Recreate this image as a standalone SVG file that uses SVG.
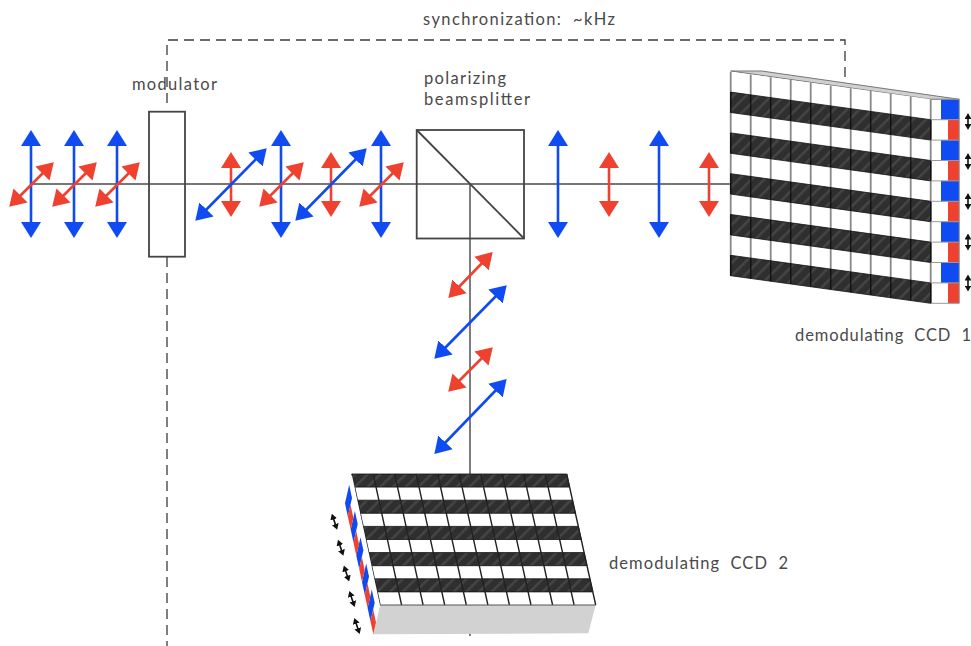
<svg xmlns="http://www.w3.org/2000/svg" width="971" height="646" viewBox="0 0 971 646">
<style>
text{font-family:"Lato","Liberation Sans",sans-serif;font-size:16.5px;fill:#4a4a4a;word-spacing:5px}
.beam{stroke:#777;stroke-width:1.9;fill:none}
.box{stroke:#444;stroke-width:1.8;fill:none}
.dash{stroke:#3a3a3a;stroke-width:1.3;fill:none;stroke-dasharray:10 6}
.b{stroke:#0f4bf0;stroke-width:2.6;marker-start:url(#hb);marker-end:url(#hb)}
.r{stroke:#ef4130;stroke-width:2.6;marker-start:url(#hr);marker-end:url(#hr)}
.k{stroke:#111;stroke-width:1.6;marker-start:url(#hk);marker-end:url(#hk)}
.dark{fill:url(#hatch);stroke:#111;stroke-width:.8}
.grid{stroke:#888;stroke-width:1.8}
.g1{stroke:#111;stroke-width:1.4;stroke-dasharray:0 20.4 20.4 0}
.g2{stroke:#222;stroke-width:1.4}
.blue{fill:#0f4bf0}
.red{fill:#ef4130}
</style>
<defs>
<marker id="hb" viewBox="0 0 16 20" markerUnits="userSpaceOnUse" markerWidth="16" markerHeight="20" refX="5" refY="10" orient="auto-start-reverse"><path d="M0 0L16 10L0 20Z" fill="#0f4bf0"/></marker>
<marker id="hr" viewBox="0 0 16 20" markerUnits="userSpaceOnUse" markerWidth="16" markerHeight="20" refX="5" refY="10" orient="auto-start-reverse"><path d="M0 0L16 10L0 20Z" fill="#ef4130"/></marker>
<marker id="hk" viewBox="0 0 6 7" markerUnits="userSpaceOnUse" markerWidth="6" markerHeight="7" refX="1" refY="3.5" orient="auto-start-reverse"><path d="M0 0L6 3.5L0 7Z" fill="#111"/></marker>
<pattern id="hatch" width="9" height="9" patternUnits="userSpaceOnUse" patternTransform="rotate(-45)"><rect width="9" height="9" fill="#2f2f2f"/><rect width="9" height="2.5" fill="#454545"/></pattern>
</defs>
<g id="connectors">
<path class="beam" d="M31 184H775M470 184V520M470 614V617M470 628V636"/>
<path class="dash" d="M167 103V40H845V81M167 257V646"/>
</g>
<g id="modulator">
<rect class="box" x="149" y="111.7" width="36" height="145"/>
<text x="132" y="90" textLength="85">modulator</text>
</g>
<g id="beamsplitter">
<rect class="box" x="416.7" y="130" width="107.3" height="108.5"/>
<path class="box" d="M416.7 130L524 238.5"/>
<text x="424" y="84" textLength="82">polarizing</text>
<text x="424" y="105" textLength="106">beamsplitter</text>
</g>
<g id="sync"><text x="423" y="25" textLength="192">synchronization: ~kHz</text></g>
<g id="pol-input">
<line class="b" x1="31" y1="141" x2="31" y2="227"/><line class="r" x1="17" y1="199" x2="46" y2="170"/>
<line class="b" x1="74" y1="141" x2="74" y2="227"/><line class="r" x1="60" y1="199" x2="89" y2="170"/>
<line class="b" x1="117" y1="141" x2="117" y2="227"/><line class="r" x1="103" y1="199" x2="132" y2="170"/>
</g>
<g id="pol-middle">
<line class="r" x1="231" y1="163" x2="231" y2="206"/><line class="b" x1="203" y1="213" x2="259" y2="156"/>
<line class="b" x1="281" y1="141" x2="281" y2="227"/><line class="r" x1="267" y1="199" x2="296" y2="170"/>
<line class="r" x1="331" y1="163" x2="331" y2="206"/><line class="b" x1="303" y1="213" x2="359" y2="156"/>
<line class="b" x1="381" y1="141" x2="381" y2="227"/><line class="r" x1="367" y1="199" x2="396" y2="170"/>
</g>
<g id="pol-right">
<line class="b" x1="558" y1="141" x2="558" y2="227"/>
<line class="r" x1="609" y1="163" x2="609" y2="206"/>
<line class="b" x1="659" y1="141" x2="659" y2="227"/>
<line class="r" x1="709" y1="163" x2="709" y2="206"/>
</g>
<g id="pol-down">
<line class="r" x1="456" y1="290" x2="485" y2="260"/>
<line class="b" x1="442" y1="351" x2="499" y2="293"/>
<line class="r" x1="456" y1="384" x2="485" y2="355"/>
<line class="b" x1="442" y1="446" x2="499" y2="387"/>
</g>
<g id="ccd1">
<path d="M730.7 71L761.7 71L959.3 99.3H930.7Z" fill="#d0d0d0" stroke="#777" stroke-width="1"/>
<path d="M730.7 71.7L930.7 99.3V303.3L730.7 275.7Z" fill="#fff"/>
<path class="grid" d="M750.7 74.5V278.5M770.7 77.2V281.2M790.7 80V284M810.7 82.7V286.7M830.7 85.5V289.5M850.7 88.3V292.3M870.7 91V295M890.7 93.8V297.8M910.7 96.5V300.5M730.7 71.7V275.7M930.7 99.3V303.3"/>
<polygon class="dark" points="730.7,92.1 930.7,119.7 930.7,140.1 730.7,112.5"/>
<polygon class="dark" points="730.7,132.9 930.7,160.5 930.7,180.9 730.7,153.3"/>
<polygon class="dark" points="730.7,173.7 930.7,201.3 930.7,221.7 730.7,194.1"/>
<polygon class="dark" points="730.7,214.5 930.7,242.1 930.7,262.5 730.7,234.9"/>
<polygon class="dark" points="730.7,255.3 930.7,282.9 930.7,303.3 730.7,275.7"/>
<path class="g1" d="M750.7 74.5V278.5M770.7 77.2V281.2M790.7 80V284M810.7 82.7V286.7M830.7 85.5V289.5M850.7 88.3V292.3M870.7 91V295M890.7 93.8V297.8M910.7 96.5V300.5M730.7 71.7V275.7M930.7 99.3V303.3"/>
<rect class="blue" x="941" y="99.3" width="18.3" height="20.4"/><rect class="red" x="948" y="119.7" width="11.3" height="20.4"/>
<rect class="blue" x="941" y="140.1" width="18.3" height="20.4"/><rect class="red" x="948" y="160.5" width="11.3" height="20.4"/>
<rect class="blue" x="941" y="180.9" width="18.3" height="20.4"/><rect class="red" x="948" y="201.3" width="11.3" height="20.4"/>
<rect class="blue" x="941" y="221.7" width="18.3" height="20.4"/><rect class="red" x="948" y="242.1" width="11.3" height="20.4"/>
<rect class="blue" x="941" y="262.5" width="18.3" height="20.4"/><rect class="red" x="948" y="282.9" width="11.3" height="20.4"/>
<path d="M930.7 99.3H959.3V303.3H930.7M930.7 119.7H959.3M930.7 140.1H959.3M930.7 160.5H959.3M930.7 180.9H959.3M930.7 201.3H959.3M930.7 221.7H959.3M930.7 242.1H959.3M930.7 262.5H959.3M930.7 282.9H959.3" fill="none" stroke="#999" stroke-width="1"/>
<line class="k" x1="968" y1="118" x2="968" y2="125"/>
<line class="k" x1="968" y1="158" x2="968" y2="165"/>
<line class="k" x1="968" y1="198" x2="968" y2="205"/>
<line class="k" x1="968" y1="238.5" x2="968" y2="245.5"/>
<line class="k" x1="968" y1="279.5" x2="968" y2="286.5"/>
<text x="795" y="341" textLength="176">demodulating CCD 1</text>
</g>
<g id="ccd2">
<path d="M380 605H595.7L588.3 633.3L373.3 634.3Z" fill="#d2d2d2"/>
<path d="M351.7 474H566.7L595.7 605H380Z" fill="#fff"/>
<polygon class="dark" points="351.7,474 566.7,474 569.6,487.1 354.5,487.1"/>
<polygon class="dark" points="357.4,500.2 572.5,500.2 575.4,513.3 360.2,513.3"/>
<polygon class="dark" points="363,526.4 578.3,526.4 581.2,539.5 365.9,539.5"/>
<polygon class="dark" points="368.7,552.6 584.1,552.6 587,565.7 371.5,565.7"/>
<polygon class="dark" points="374.3,578.8 589.9,578.8 592.8,591.9 377.2,591.9"/>
<path class="g2" d="M351.7 474L380 605M373.2 474L401.6 605M394.7 474L423.1 605M416.2 474L444.7 605M437.7 474L466.3 605M459.2 474L487.9 605M480.7 474L509.4 605M502.2 474L531 605M523.7 474L552.6 605M545.2 474L574.1 605M566.7 474L595.7 605"/>
<path d="M380 605H595.7" stroke="#555" stroke-width="1.2"/>
<polygon points="351.7,474 380,605 373.3,634.3 345,503.3" fill="#fff"/>
<polygon class="blue" points="349.2,484.8 352,497.9 347.8,516.4 345,503.3"/>
<polygon class="blue" points="354.9,511 357.7,524.1 353.5,542.6 350.7,529.5"/>
<polygon class="blue" points="360.5,537.2 363.4,550.3 359.2,568.8 356.3,555.7"/>
<polygon class="blue" points="366.2,563.4 369,576.5 364.8,595 362,581.9"/>
<polygon class="blue" points="371.8,589.6 374.7,602.7 370.5,621.2 367.6,608.1"/>
<polygon class="red" points="350.5,504.7 353.4,517.8 350.7,529.5 347.8,516.4"/>
<polygon class="red" points="356.2,530.9 359,544 356.3,555.7 353.5,542.6"/>
<polygon class="red" points="361.9,557.1 364.7,570.2 362,581.9 359.2,568.8"/>
<polygon class="red" points="367.5,583.3 370.3,596.4 367.6,608.1 364.8,595"/>
<polygon class="red" points="373.2,609.5 376,622.6 373.3,634.3 370.5,621.2"/>
<line class="k" x1="333.4" y1="518.4" x2="335.6" y2="525"/>
<line class="k" x1="339.6" y1="544.4" x2="341.8" y2="551"/>
<line class="k" x1="345.4" y1="570.2" x2="347.6" y2="576.8"/>
<line class="k" x1="350.9" y1="595.7" x2="353.1" y2="602.3"/>
<line class="k" x1="355.9" y1="622.7" x2="358.1" y2="629.3"/>
<text x="609" y="569" textLength="179">demodulating CCD 2</text>
</g>
</svg>
